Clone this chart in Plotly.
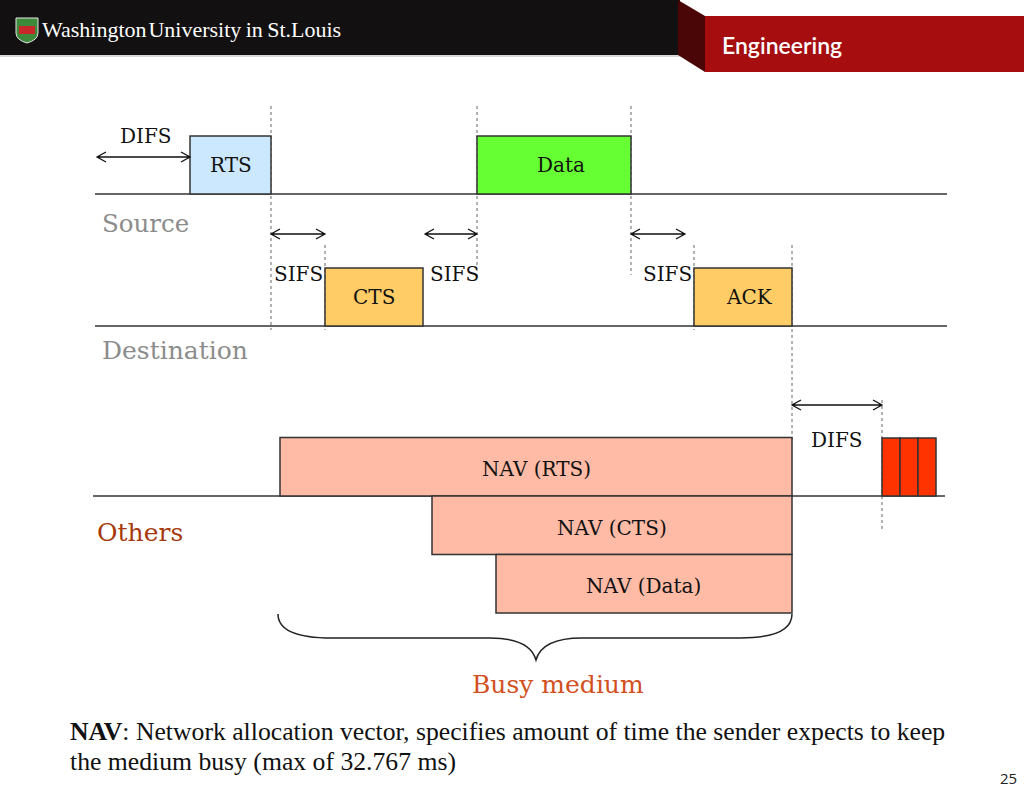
import plotly.graph_objects as go

# ---------------- data ----------------
# frames on the Source / Destination timelines (time in diagram units)
frame_names = ["RTS", "Data", "CTS", "ACK"]
frame_start = [190, 477, 325, 694]
frame_end = [271, 631, 423, 792]
frame_station = ["Source", "Source", "Destination", "Destination"]
frame_colors = ["#CCE8FF", "#66FF33", "#FFCC66", "#FFCC66"]

# NAV timers set at the other stations
nav_names = ["NAV (RTS)", "NAV (CTS)", "NAV (Data)"]
nav_start = [280, 432, 496]
nav_end = [792, 792, 792]

# interframe spaces
ifs_labels = ["DIFS", "SIFS", "SIFS", "SIFS", "DIFS"]
ifs_start = [97, 271, 425, 631, 792]
ifs_end = [190, 325, 477, 685, 882]

# contention slots after the DIFS
slot_start = [882, 900, 918]
slot_end = [900, 918, 936]

station_labels = ["Source", "Destination", "Others"]

# ---------------- layout constants ----------------
row_base = {"Source": 194, "Destination": 326}
frame_h = 58
frame_label_dx = [0, 7, 0, 6]
others_base = 496
nav_h = 58.5
nav_label_pos = [(536, 469), (612, 528), (643, 586)]
ifs_y = [157, 234, 234, 234, 405]
ifs_label_pos = [(146, 136), (298, 274), (454, 274), (667, 274), (837, 440)]
serif = "DejaVu Serif"

shapes = []
ann = []

def line(x0, y0, x1, y1, color="#333333", width=1.5, dash=None):
    d = dict(type="line", x0=x0, y0=y0, x1=x1, y1=y1, xref="x", yref="y",
             line=dict(color=color, width=width))
    if dash:
        d["line"]["dash"] = dash
    shapes.append(d)

def rect(x0, y0, x1, y1, fill, color="#333333", width=1.5):
    shapes.append(dict(type="rect", x0=x0, y0=y0, x1=x1, y1=y1, xref="x", yref="y",
                       fillcolor=fill, line=dict(color=color, width=width), layer="above"))

def text(x, y, s, size=20, color="#111111", family=serif, xanchor="center", weight=None):
    f = dict(family=family, size=size, color=color)
    if weight:
        f["weight"] = weight
    ann.append(dict(x=x, y=y, xref="x", yref="y", text=s, showarrow=False,
                    xanchor=xanchor, yanchor="middle", font=f))

def darrow(x0, x1, y):
    h, w = 5, 9
    p = (f"M {x0},{y} L {x1},{y} "
         f"M {x0+w},{y-h} L {x0},{y} L {x0+w},{y+h} "
         f"M {x1-w},{y-h} L {x1},{y} L {x1-w},{y+h}")
    shapes.append(dict(type="path", path=p, xref="x", yref="y",
                       line=dict(color="#111111", width=1.3)))

# ---------------- header ----------------
shapes.append(dict(type="rect", x0=0, y0=0, x1=680, y1=55, xref="x", yref="y",
                   fillcolor="#121010", line=dict(width=0), layer="below"))
shapes.append(dict(type="rect", x0=0, y0=55, x1=680, y1=57, xref="x", yref="y",
                   fillcolor="#D8D8D8", line=dict(width=0), layer="below"))
shapes.append(dict(type="path", path="M 678,0 L 705,16 L 705,72 L 678,55 Z",
                   xref="x", yref="y", fillcolor="#4A0507", line=dict(width=0)))
shapes.append(dict(type="rect", x0=705, y0=16, x1=1024, y1=72, xref="x", yref="y",
                   fillcolor="#A50D0E", line=dict(width=0), layer="below"))
# shield logo
shapes.append(dict(type="path", path="M 16,18 L 38,18 L 38,33 Q 38,40 27,43 Q 16,40 16,33 Z",
                   xref="x", yref="y", fillcolor="#3C8A3A", line=dict(color="#E6E6E6", width=1)))
shapes.append(dict(type="rect", x0=19, y0=26, x1=35, y1=34, xref="x", yref="y",
                   fillcolor="#C8282A", line=dict(width=0)))
text(40, 29, "Washington&#8202;University&#8201;in&#8201;St.Louis", size=22, color="#FFFFFF",
     family="Liberation Serif", xanchor="left")
text(720, 45, "Engineering", size=23, color="#FFFFFF", family="Lato", xanchor="left", weight=600)

# ---------------- timelines ----------------
line(95, row_base["Source"], 947, row_base["Source"])
line(95, row_base["Destination"], 947, row_base["Destination"])
line(93, others_base, 945, others_base)

# dotted guides
dots = [(271, 106, 330), (477, 106, 280), (631, 106, 275), (325, 245, 330),
        (694, 245, 330), (792, 245, 440), (882, 400, 530)]
for x, y0, y1 in dots:
    line(x, y0, x, y1, color="#666666", width=1, dash="dot")

for n, s, e, st, c, dx in zip(frame_names, frame_start, frame_end, frame_station,
                              frame_colors, frame_label_dx):
    b = row_base[st]
    rect(s, b - frame_h, e, b, c)
    text((s + e) / 2 + dx, b - frame_h / 2, n)

for i, (n, s, e, (lx, ly)) in enumerate(zip(nav_names, nav_start, nav_end, nav_label_pos)):
    y0 = others_base - nav_h + i * nav_h
    rect(s, y0, e, y0 + nav_h, "#FFBBA6")
    text(lx, ly, n)

for s, e in zip(slot_start, slot_end):
    rect(s, 438, e, others_base, "#FF3300")

# interframe space arrows
for lab, s, e, y, (lx, ly) in zip(ifs_labels, ifs_start, ifs_end, ifs_y, ifs_label_pos):
    darrow(s, e, y)
    text(lx, ly, lab)

# station labels
text(100, 223, station_labels[0], size=24.5, color="#8C8C8C", xanchor="left")
text(100, 350, station_labels[1], size=25, color="#8C8C8C", xanchor="left")
text(95, 532, station_labels[2], size=25, color="#A63A0C", xanchor="left")

# brace
shapes.append(dict(type="path",
                   path="M 278,614 Q 278,638 332,638 L 490,638 Q 530,638 536,660 "
                        "Q 542,638 582,638 L 740,638 Q 792,638 792,614",
                   xref="x", yref="y", line=dict(color="#222222", width=1.5)))
text(558, 684, "Busy medium", size=25, color="#D2501E")

# footnote
text(68, 731, "<b>NAV</b>: Network allocation vector, specifies amount of time the sender expects to keep",
     size=25.7, family="Liberation Serif", xanchor="left")
text(68, 761, "the medium busy (max of 32.767 ms)", size=25.7, family="Liberation Serif", xanchor="left")
text(1008, 778, "25", size=15, family="Open Sans", color="#222222")

fig = go.Figure()
fig.add_trace(go.Scatter(x=[0, 1024], y=[0, 791], mode="markers",
                         marker=dict(opacity=0), hoverinfo="skip", showlegend=False))
fig.update_layout(width=1024, height=791, margin=dict(l=0, r=0, t=0, b=0),
                  paper_bgcolor="white", plot_bgcolor="white",
                  shapes=shapes, annotations=ann, showlegend=False,
                  xaxis=dict(range=[0, 1024], visible=False, fixedrange=True),
                  yaxis=dict(range=[791, 0], visible=False, fixedrange=True))
fig.write_html("out.html", config={"displayModeBar": False},
               post_script="document.body.style.margin='0';document.body.style.overflow='hidden';")
